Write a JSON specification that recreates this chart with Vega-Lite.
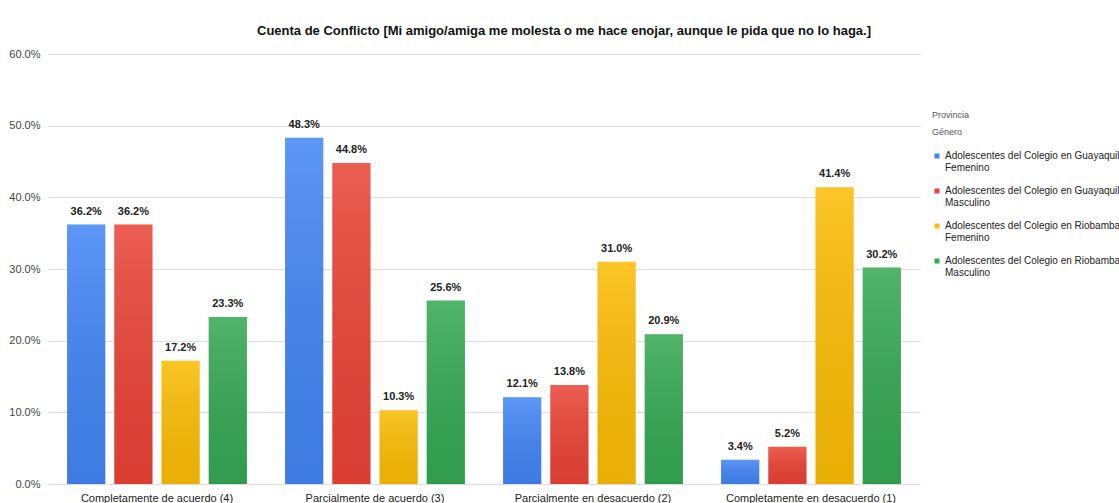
{
  "$schema": "https://vega.github.io/schema/vega-lite/v6.json",
  "width": 872,
  "height": 430,
  "padding": {"left": 8, "top": 25, "right": 0, "bottom": 0},
  "background": "white",
  "title": {
    "text": "Cuenta de Conflicto [Mi amigo/amiga me molesta o me hace enojar, aunque le pida que no lo haga.]",
    "font": "Liberation Sans",
    "fontSize": 13,
    "fontWeight": "bold",
    "color": "#111",
    "anchor": "middle",
    "dx": 80,
    "offset": 10
  },
  "config": {
    "font": "Liberation Sans",
    "view": {"stroke": null}
  },
  "data": {
    "values": [
      {"cat": "Completamente de acuerdo (4)", "serie": "Adolescentes del Colegio en Guayaquil|Femenino", "v": 0.362},
      {"cat": "Completamente de acuerdo (4)", "serie": "Adolescentes del Colegio en Guayaquil|Masculino", "v": 0.362},
      {"cat": "Completamente de acuerdo (4)", "serie": "Adolescentes del Colegio en Riobamba|Femenino", "v": 0.172},
      {"cat": "Completamente de acuerdo (4)", "serie": "Adolescentes del Colegio en Riobamba|Masculino", "v": 0.233},
      {"cat": "Parcialmente de acuerdo (3)", "serie": "Adolescentes del Colegio en Guayaquil|Femenino", "v": 0.483},
      {"cat": "Parcialmente de acuerdo (3)", "serie": "Adolescentes del Colegio en Guayaquil|Masculino", "v": 0.448},
      {"cat": "Parcialmente de acuerdo (3)", "serie": "Adolescentes del Colegio en Riobamba|Femenino", "v": 0.103},
      {"cat": "Parcialmente de acuerdo (3)", "serie": "Adolescentes del Colegio en Riobamba|Masculino", "v": 0.256},
      {"cat": "Parcialmente en desacuerdo (2)", "serie": "Adolescentes del Colegio en Guayaquil|Femenino", "v": 0.121},
      {"cat": "Parcialmente en desacuerdo (2)", "serie": "Adolescentes del Colegio en Guayaquil|Masculino", "v": 0.138},
      {"cat": "Parcialmente en desacuerdo (2)", "serie": "Adolescentes del Colegio en Riobamba|Femenino", "v": 0.310},
      {"cat": "Parcialmente en desacuerdo (2)", "serie": "Adolescentes del Colegio en Riobamba|Masculino", "v": 0.209},
      {"cat": "Completamente en desacuerdo (1)", "serie": "Adolescentes del Colegio en Guayaquil|Femenino", "v": 0.034},
      {"cat": "Completamente en desacuerdo (1)", "serie": "Adolescentes del Colegio en Guayaquil|Masculino", "v": 0.052},
      {"cat": "Completamente en desacuerdo (1)", "serie": "Adolescentes del Colegio en Riobamba|Femenino", "v": 0.414},
      {"cat": "Completamente en desacuerdo (1)", "serie": "Adolescentes del Colegio en Riobamba|Masculino", "v": 0.302}
    ]
  },
  "encoding": {
    "x": {
      "field": "cat", "type": "nominal", "sort": null, "title": null,
      "scale": {"paddingInner": 0.175, "paddingOuter": 0.0875},
      "axis": {"labelAngle": 0, "labelFontSize": 11, "labelColor": "#222", "labelPadding": 8, "ticks": false, "domain": false, "labelLimit": 300}
    },
    "xOffset": {"field": "serie", "type": "nominal", "sort": null, "scale": {"paddingInner": 0.19, "paddingOuter": 0}},
    "y": {
      "field": "v", "type": "quantitative", "title": null,
      "scale": {"domain": [0, 0.6], "nice": false},
      "axis": {"format": ".1%", "values": [0, 0.1, 0.2, 0.3, 0.4, 0.5, 0.6], "labelFontSize": 11, "labelColor": "#444", "labelPadding": 8, "ticks": false, "domain": false, "gridColor": "#dcdcdc"}
    }
  },
  "layer": [
    {
      "mark": {"type": "bar"},
      "encoding": {
        "color": {
          "field": "serie", "type": "nominal", "sort": null,
          "scale": {"range": ["#4285f4", "#ea4335", "#fbbc04", "#34a853"]},
          "legend": {
            "title": ["Provincia", "Género"],
            "titleFontSize": 9, "titleFontWeight": "normal", "titleColor": "#555", "titleLineHeight": 17,
            "titlePadding": 14,
            "labelExpr": "split(datum.label, '|')",
            "labelFontSize": 10, "labelColor": "#222", "labelLimit": 400, "labelOffset": 3, "labelLineHeight": 13,
            "symbolType": "square", "symbolSize": 25, "symbolStrokeWidth": 0,
            "rowPadding": 13,
            "orient": "none", "legendX": 884, "legendY": 57
          }
        }
      }
    },
    {
      "mark": {
        "type": "bar",
        "color": {
          "x1": 0, "y1": 0, "x2": 0, "y2": 1,
          "gradient": "linear",
          "stops": [
            {"offset": 0, "color": "rgba(255,255,255,0.14)"},
            {"offset": 1, "color": "rgba(0,0,0,0.07)"}
          ]
        }
      }
    },
    {
      "mark": {"type": "text", "dy": -13, "fontSize": 11, "fontWeight": "bold", "color": "#222"},
      "encoding": {"text": {"field": "v", "type": "quantitative", "format": ".1%"}}
    }
  ]
}
